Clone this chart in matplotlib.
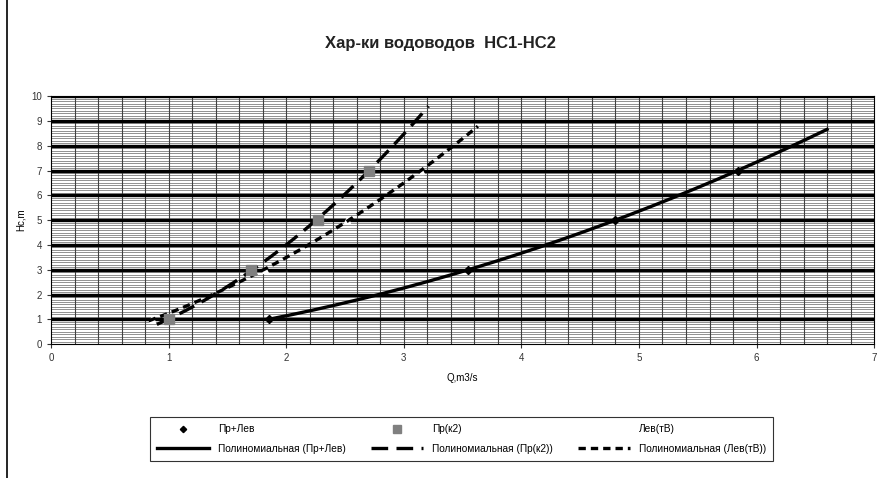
import numpy as np
import matplotlib.pyplot as plt
from matplotlib.lines import Line2D

plt.rcParams['font.family'] = ['Liberation Sans', 'DejaVu Sans']

# data
h = [1, 3, 5, 7]
q_pr_lev = [1.85, 3.55, 4.80, 5.84]
q_pr_k2 = [1.00, 1.70, 2.27, 2.70]
q_lev_tv = [0.86, 1.82, 2.52, 3.15]

# trendline extent (Excel forecast back/forward)
trend_pr_lev = (1.85, 6.60)
trend_pr_k2 = (0.90, 3.21)
trend_lev_tv = (0.83, 3.63)

labels = ["Пр+Лев", "Пр(к2)", "Лев(тВ)"]


def trend(q, rng):
    c = np.polyfit(q, h, 2)
    x = np.linspace(rng[0], rng[1], 200)
    return x, np.polyval(c, x)


fig = plt.figure(figsize=(8.86, 4.78), dpi=100)
ax = fig.add_axes([0.0576, 0.280, 0.929, 0.519])

ax.set_xlim(0, 7)
ax.set_ylim(0, 10)

# grid
for y in np.arange(0.1, 10, 0.1):
    if abs(y - round(y)) > 1e-6:
        ax.axhline(y, color='0.45', lw=0.55, zorder=1)
for x in np.arange(0.2, 7, 0.2):
    ax.axvline(x, color='0.25', lw=0.8, zorder=1)
for y in range(1, 11):
    ax.axhline(y, color='black', lw=2.4, zorder=2)

x1, y1 = trend(q_pr_lev, trend_pr_lev)
x2, y2 = trend(q_pr_k2, trend_pr_k2)
x3, y3 = trend(q_lev_tv, trend_lev_tv)

ax.plot(q_lev_tv, h, linestyle='none', marker='^', ms=5, color='white', zorder=3)
l1, = ax.plot(x1, y1, color='black', lw=2.4, zorder=4)
l2, = ax.plot(x2, y2, color='black', lw=2.4, dashes=(5, 2.5), zorder=4)
l3, = ax.plot(x3, y3, color='black', lw=2.4, dashes=(2.2, 1.5), zorder=4)
m1, = ax.plot(q_pr_lev, h, linestyle='none', marker='D', ms=4, color='black', zorder=5)
m2, = ax.plot(q_pr_k2, h, linestyle='none', marker='s', ms=7, color='#808080', zorder=5)

ax.set_xticks(range(0, 8))
ax.set_yticks(range(0, 11))
ax.tick_params(labelsize=7, colors='#333333', length=3, width=0.8)
for s in ax.spines.values():
    s.set_color('black')
    s.set_linewidth(0.8)

ax.set_xlabel("Q,m3/s", fontsize=7, labelpad=7)
ax.set_ylabel("Hc,m", fontsize=7, labelpad=4)

fig.text(0.497, 0.910, "Хар-ки водоводов  НС1-НС2", ha='center', va='center',
         fontsize=12, fontweight='bold', color='#222222')

blank = Line2D([], [], linestyle='none', marker='^', color='white')
handles = [m1, l1, m2, l2, blank, l3]
names = [labels[0], "Полиномиальная (" + labels[0] + ")",
         labels[1], "Полиномиальная (" + labels[1] + ")",
         labels[2], "Полиномиальная (" + labels[2] + ")"]
leg = fig.legend(handles, names, ncol=3, loc='center', bbox_to_anchor=(0.521, 0.0816),
                 fontsize=7.3, frameon=True, fancybox=False, edgecolor='black',
                 handlelength=5.1, handletextpad=0.9, columnspacing=2.5,
                 borderpad=0.7, labelspacing=0.9, markerscale=0.8)
leg.get_frame().set_linewidth(0.8)

fig.add_artist(Line2D([0.008, 0.008], [0, 1], color='black', lw=1.2, transform=fig.transFigure))

fig.savefig("out.png", dpi=100)
